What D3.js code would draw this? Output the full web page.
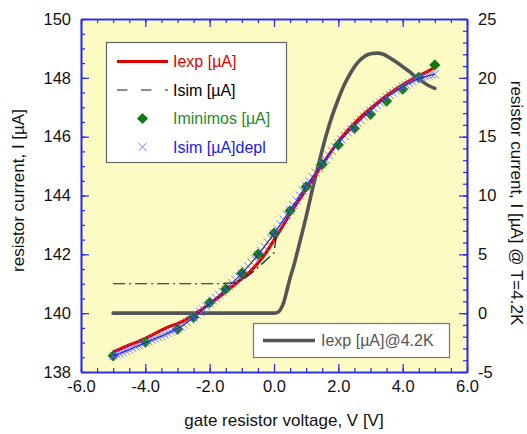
<!DOCTYPE html>
<html>
<head>
<meta charset="utf-8">
<script src="https://cdn.jsdelivr.net/npm/d3@7"></script>
<style>
  html, body { margin: 0; padding: 0; background: #ffffff; }
  svg { display: block; font-family: "Liberation Sans", Arial, sans-serif; }
</style>
</head>
<body>
<svg id="chart" width="527" height="434"></svg>
<script>
// Gate voltage sweep (V) and measured / simulated resistor currents (µA)
const iexpV = [-5.00,-4.75,-4.50,-4.25,-4.00,-3.75,-3.50,-3.25,-3.00,-2.75,-2.50,-2.25,-2.00,-1.75,-1.50,-1.25,-1.00,-0.75,-0.50,-0.25,0.00,0.25,0.50,0.75,1.00,1.25,1.50,1.75,2.00,2.25,2.50,2.75,3.00,3.25,3.50,3.75,4.00,4.25,4.50,4.75,4.95];
const iexpI = [138.68,138.80,138.92,139.02,139.14,139.28,139.42,139.55,139.64,139.77,139.95,140.12,140.32,140.52,140.73,140.95,141.18,141.40,141.70,142.05,142.48,142.92,143.38,143.80,144.22,144.64,145.05,145.45,145.84,146.16,146.45,146.72,146.96,147.18,147.40,147.58,147.76,147.92,148.07,148.20,148.32];

const isimV = [-5.0,-1.6,-1.2,-0.9,-0.6,-0.3,0.0,0.05,0.08];
const isimI = [141.0,141.0,141.05,141.2,141.45,141.75,142.05,142.45,142.75];

const minimosV = [-5.0,-4.0,-3.0,-2.5,-2.0,-1.5,-1.0,-0.5,0.0,0.5,1.0,1.5,2.0,2.5,3.0,3.5,4.0,4.5,5.0];
const minimosI = [138.55,139.01,139.45,139.86,140.36,140.82,141.36,142.00,142.72,143.48,144.30,145.06,145.72,146.28,146.76,147.21,147.61,148.02,148.44];

const deplV = [-5.0,-4.9,-4.8,-4.7,-4.6,-4.5,-4.4,-4.3,-4.2,-4.1,-4.0,-3.9,-3.8,-3.7,-3.6,-3.5,-3.4,-3.3,-3.2,-3.1,-3.0,-2.9,-2.8,-2.7,-2.6,-2.5,-2.4,-2.3,-2.2,-2.1,-2.0,-1.9,-1.8,-1.7,-1.6,-1.5,-1.4,-1.3,-1.2,-1.1,-1.0,-0.9,-0.8,-0.7,-0.6,-0.5,-0.4,-0.3,-0.2,-0.1,0.0,0.1,0.2,0.3,0.4,0.5,0.6,0.7,0.8,0.9,1.0,1.1,1.2,1.3,1.4,1.5,1.6,1.7,1.8,1.9,2.0,2.1,2.2,2.3,2.4,2.5,2.6,2.7,2.8,2.9,3.0,3.1,3.2,3.3,3.4,3.5,3.6,3.7,3.8,3.9,4.0,4.1,4.2,4.3,4.4,4.5,4.6,4.7,4.8,4.9,5.0];
const deplI = [138.55,138.59,138.63,138.67,138.72,138.76,138.81,138.86,138.90,138.95,139.00,139.04,139.09,139.13,139.18,139.22,139.27,139.32,139.37,139.42,139.47,139.54,139.61,139.69,139.77,139.85,139.94,140.04,140.13,140.23,140.33,140.43,140.52,140.62,140.72,140.82,140.92,141.03,141.13,141.24,141.35,141.47,141.59,141.72,141.85,141.98,142.12,142.26,142.41,142.55,142.70,142.86,143.02,143.18,143.34,143.50,143.67,143.83,144.00,144.16,144.32,144.48,144.63,144.78,144.93,145.08,145.22,145.37,145.51,145.65,145.78,145.90,146.02,146.14,146.25,146.36,146.47,146.57,146.68,146.78,146.88,146.97,147.07,147.16,147.25,147.34,147.42,147.49,147.56,147.63,147.70,147.76,147.82,147.87,147.93,147.98,148.01,148.04,148.07,148.10,148.12];

// Low-temperature measurement, plotted on the right axis
const cold4kV = [-5.0,-4.0,-3.0,-2.0,-1.0,0.0,0.1,0.2,0.3,0.4,0.5,0.6,0.8,1.0,1.2,1.4,1.6,1.8,2.0,2.2,2.4,2.6,2.8,3.0,3.2,3.4,3.6,3.8,4.0,4.2,4.4,4.6,4.8,5.0];
const cold4kI = [0,0,0,0,0,0,0.05,0.3,0.9,1.9,3.0,3.9,6.0,8.2,10.6,12.8,14.9,16.7,18.2,19.5,20.5,21.3,21.8,22.05,22.1,22.0,21.7,21.35,20.95,20.55,20.1,19.7,19.35,19.1];

// Axis ticks
const xMajorTicks = [-6,-4,-2,0,2,4,6];
const xMinorTicks = d3.range(-6, 6.01, 0.5);
const yLeftMajorTicks = [138,140,142,144,146,148,150];
const yLeftMinorTicks = d3.range(138, 150.01, 0.5);
const yRightMajorTicks = [-5,0,5,10,15,20,25];
const yRightMinorTicks = d3.range(-5, 25.01, 1);

const legendMain = [
  { label: "Iexp [\u00b5A]", color: "#e00000", kind: "line" },
  { label: "Isim [\u00b5A]", color: "#000000", kind: "dash" },
  { label: "Iminimos [\u00b5A]", color: "#1e8c1e", kind: "diamond" },
  { label: "Isim [\u00b5A]depl", color: "#1a1aee", kind: "cross" }
];
const legend4k = "Iexp [\u00b5A]@4.2K";

const xTitle = "gate resistor voltage, V [V]";
const yLeftTitle = "resistor current, I [\u00b5A]";
const yRightTitle = "resistor current, I [\u00b5A] @ T=4.2K";

// Layout
const plot = { left: 81, right: 467, top: 19, bottom: 372 };
const axisBlue = "#2828f0";
const fontSize = 16.5;

const svg = d3.select("#chart");

const x = d3.scaleLinear().domain([-6, 6]).range([plot.left, plot.right]);
const yL = d3.scaleLinear().domain([138, 150]).range([plot.bottom, plot.top]);
const yR = d3.scaleLinear().domain([-5, 25]).range([plot.bottom, plot.top]);

// Plot background
svg.append("rect")
  .attr("x", plot.left).attr("y", plot.top)
  .attr("width", plot.right - plot.left).attr("height", plot.bottom - plot.top)
  .attr("fill", "#fbfbc3");

const zip = (xs, ys) => xs.map((v, i) => [v, ys[i]]);

// 4.2 K curve (right axis)
svg.append("path")
  .datum(zip(cold4kV, cold4kI))
  .attr("fill", "none").attr("stroke", "#555555").attr("stroke-width", 3.6)
  .attr("stroke-linejoin", "round").attr("stroke-linecap", "round")
  .attr("d", d3.line().x(d => x(d[0])).y(d => yR(d[1])).curve(d3.curveMonotoneX));

// Measured current
svg.append("path")
  .datum(zip(iexpV, iexpI))
  .attr("fill", "none").attr("stroke", "#e00000").attr("stroke-width", 3.2)
  .attr("stroke-linejoin", "round")
  .attr("d", d3.line().x(d => x(d[0])).y(d => yL(d[1])));

// Simulated current
svg.append("path")
  .datum(zip(isimV, isimI))
  .attr("fill", "none").attr("stroke", "#1a1a1a").attr("stroke-width", 1.2)
  .attr("stroke-dasharray", "12,4,2,4")
  .attr("d", d3.line().x(d => x(d[0])).y(d => yL(d[1])));

// MINIMOS points
const diamond = d3.symbol().type(d3.symbolSquare).size(62);
svg.append("g").selectAll("path")
  .data(zip(minimosV, minimosI))
  .join("path")
  .attr("d", diamond)
  .attr("transform", d => `translate(${x(d[0])},${yL(d[1])}) rotate(45)`)
  .attr("fill", "#107a10");

// Depletion-mode simulation: crosses plus thin connecting line
const crossPath = "M-4,-4L4,4M4,-4L-4,4";
svg.append("g").selectAll("path")
  .data(zip(deplV, deplI))
  .join("path")
  .attr("d", crossPath)
  .attr("transform", d => `translate(${x(d[0])},${yL(d[1])})`)
  .attr("fill", "none").attr("stroke", "#6a6aff").attr("stroke-width", 0.9);
svg.append("path")
  .datum(zip(deplV, deplI))
  .attr("fill", "none").attr("stroke", "#1010c8").attr("stroke-width", 1)
  .attr("d", d3.line().x(d => x(d[0])).y(d => yL(d[1])));

// Axes
function styleAxis(g) {
  g.selectAll(".domain").attr("stroke", axisBlue).attr("stroke-width", 1.6);
  g.selectAll(".tick line").attr("stroke", axisBlue).attr("stroke-width", 1.2);
  g.selectAll(".tick text").attr("fill", "#111").attr("font-size", fontSize)
    .attr("font-family", "Liberation Sans, Arial, sans-serif");
}

// bottom
svg.append("g").attr("transform", `translate(0,${plot.bottom})`)
  .call(d3.axisBottom(x).tickValues(xMinorTicks).tickSizeInner(-4).tickSizeOuter(0).tickFormat(""))
  .call(styleAxis);
svg.append("g").attr("transform", `translate(0,${plot.bottom})`)
  .call(d3.axisBottom(x).tickValues(xMajorTicks).tickSizeInner(-8).tickSizeOuter(0).tickPadding(8)
    .tickFormat(d => d.toFixed(1)))
  .call(styleAxis);
// top (mirrored ticks, no labels)
svg.append("g").attr("transform", `translate(0,${plot.top})`)
  .call(d3.axisTop(x).tickValues(xMinorTicks).tickSizeInner(-4).tickSizeOuter(0).tickFormat(""))
  .call(styleAxis);
svg.append("g").attr("transform", `translate(0,${plot.top})`)
  .call(d3.axisTop(x).tickValues(xMajorTicks).tickSizeInner(-8).tickSizeOuter(0).tickFormat(""))
  .call(styleAxis);
// left
svg.append("g").attr("transform", `translate(${plot.left},0)`)
  .call(d3.axisLeft(yL).tickValues(yLeftMinorTicks).tickSizeInner(-4).tickSizeOuter(0).tickFormat(""))
  .call(styleAxis);
svg.append("g").attr("transform", `translate(${plot.left},0)`)
  .call(d3.axisLeft(yL).tickValues(yLeftMajorTicks).tickSizeInner(-8).tickSizeOuter(0).tickPadding(10)
    .tickFormat(d => String(d)))
  .call(styleAxis);
// right
svg.append("g").attr("transform", `translate(${plot.right},0)`)
  .call(d3.axisRight(yR).tickValues(yRightMinorTicks).tickSizeInner(-4).tickSizeOuter(0).tickFormat(""))
  .call(styleAxis);
svg.append("g").attr("transform", `translate(${plot.right},0)`)
  .call(d3.axisRight(yR).tickValues(yRightMajorTicks).tickSizeInner(-8).tickSizeOuter(0).tickPadding(11)
    .tickFormat(d => String(d)))
  .call(styleAxis);

// Axis titles
svg.append("text")
  .attr("x", 284).attr("y", 426)
  .attr("text-anchor", "middle").attr("font-size", 17).attr("fill", "#111")
  .text(xTitle);
svg.append("text")
  .attr("transform", "translate(24,190.5) rotate(-90)")
  .attr("text-anchor", "middle").attr("font-size", 17).attr("fill", "#111")
  .text(yLeftTitle);
svg.append("text")
  .attr("transform", "translate(511,203) rotate(90)")
  .attr("text-anchor", "middle").attr("font-size", 17).attr("fill", "#111")
  .text(yRightTitle);

// Main legend
const lg = svg.append("g");
lg.append("rect")
  .attr("x", 106.5).attr("y", 42.5).attr("width", 180).attr("height", 120)
  .attr("fill", "#ffffff").attr("stroke", "#666666").attr("stroke-width", 1.2);
const rowY = [61.5, 90, 118.5, 147];
legendMain.forEach((item, i) => {
  const cy = rowY[i];
  if (item.kind === "line") {
    lg.append("line").attr("x1", 117).attr("x2", 168).attr("y1", cy).attr("y2", cy)
      .attr("stroke", item.color).attr("stroke-width", 3.2);
  } else if (item.kind === "dash") {
    lg.append("line").attr("x1", 117).attr("x2", 168).attr("y1", cy).attr("y2", cy)
      .attr("stroke", "#666666").attr("stroke-width", 1.6).attr("stroke-dasharray", "10.5,13.5");
  } else if (item.kind === "diamond") {
    lg.append("path").attr("d", diamond)
      .attr("transform", `translate(142.5,${cy}) rotate(45)`).attr("fill", "#107a10");
  } else {
    lg.append("path").attr("d", crossPath)
      .attr("transform", `translate(142.5,${cy})`)
      .attr("fill", "none").attr("stroke", "#7a7aff").attr("stroke-width", 1);
  }
  lg.append("text")
    .attr("x", 173).attr("y", cy).attr("dy", "0.35em")
    .attr("font-size", 16).attr("fill", item.color)
    .text(item.label);
});

// 4.2 K legend
const lg2 = svg.append("g");
lg2.append("rect")
  .attr("x", 253.5).attr("y", 323.5).attr("width", 196).attr("height", 34)
  .attr("fill", "#ffffff").attr("stroke", "#777777").attr("stroke-width", 1.2);
lg2.append("line").attr("x1", 263).attr("x2", 315).attr("y1", 340.5).attr("y2", 340.5)
  .attr("stroke", "#555555").attr("stroke-width", 3.6);
lg2.append("text")
  .attr("x", 321).attr("y", 340.5).attr("dy", "0.35em")
  .attr("font-size", 16).attr("fill", "#555555")
  .text(legend4k);
</script>
</body>
</html>
